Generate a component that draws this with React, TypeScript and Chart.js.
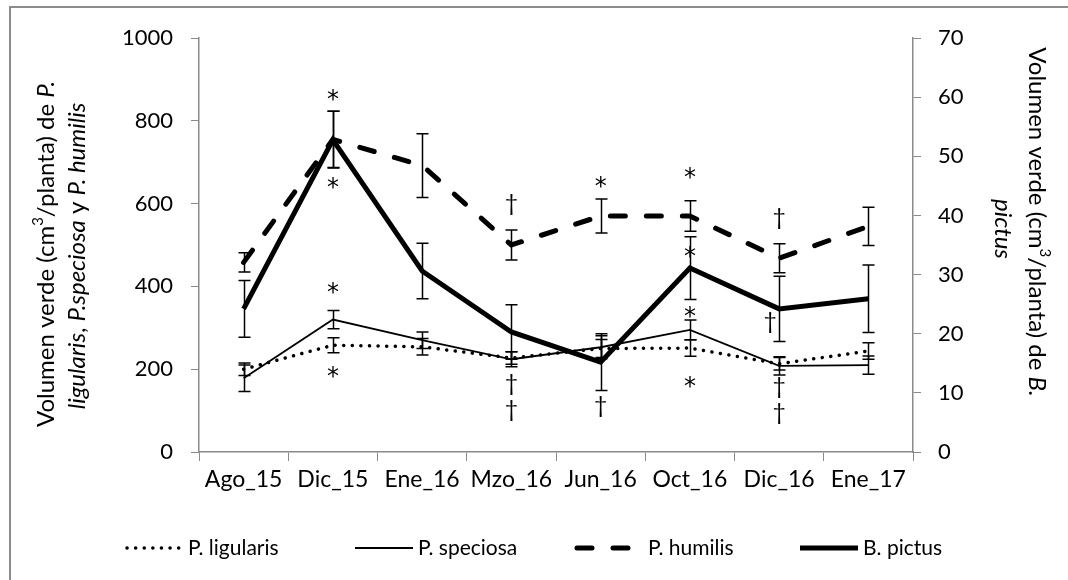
import React, { useEffect, useRef } from "react";
import { Chart, registerables } from "chart.js";

Chart.register(...registerables);

const categories = ["Ago_15", "Dic_15", "Ene_16", "Mzo_16", "Jun_16", "Oct_16", "Dic_16", "Ene_17"];

const ligularis = [200, 258, 254, 227, 250, 251, 213, 244];
const ligularisErr = [15, 18, 20, 15, 22, 20, 15, 20];
const speciosa = [178, 320, 270, 224, 253, 295, 208, 210];
const speciosaErr = [32, 22, 20, 18, 28, 24, 22, 22];
const humilis = [458, 755, 692, 500, 570, 570, 468, 545];
const humilisErr = [23, 68, 77, 36, 41, 37, 35, 46];
const pictus = [24.2, 52.8, 30.6, 20.3, 15.2, 31.1, 24.2, 25.9];
const pictusErr = [4.8, 4.8, 4.7, 4.6, 4.8, 5.3, 5.5, 5.7];

const leftTicks = [0, 200, 400, 600, 800, 1000];
const rightTicks = [0, 10, 20, 30, 40, 50, 60, 70];

// significance marks (category index, value on left axis, symbol)
const markCategory = [1, 1, 1, 1, 3, 3, 3, 4, 4, 5, 5, 5, 5, 6, 5.9, 6, 6];
const markValue = [862, 650, 396, 193, 599, 162, 101, 652, 109, 674, 483, 338, 169, 565, 314, 155, 94];
const markSymbol = ["*", "*", "*", "*", "†", "†", "†", "*", "†", "*", "*", "*", "*", "†", "†", "†", "†"];

const seriesNames = ["P. ligularis", "P. speciosa", "P. humilis", "B. pictus"];

const FONT = "Lato, 'Open Sans', sans-serif";
const AXIS_GREY = "#8a8a8a";

type Seg = { t: string; i?: boolean; sup?: boolean };

const leftTitle1: Seg[] = [
  { t: "Volumen verde (cm" },
  { t: "3", sup: true },
  { t: "/planta) de " },
  { t: "P.", i: true },
];
const leftTitle2: Seg[] = [
  { t: "ligularis", i: true },
  { t: ", " },
  { t: "P.speciosa", i: true },
  { t: " y " },
  { t: "P. humilis", i: true },
];
const rightTitle1: Seg[] = [
  { t: "Volumen verde (cm" },
  { t: "3", sup: true },
  { t: "/planta) de " },
  { t: "B.", i: true },
];
const rightTitle2: Seg[] = [{ t: "pictus", i: true }];

function segFont(s: Seg, size: number) {
  const sz = s.sup ? Math.round(size * 0.62) : size;
  return `${s.i ? "italic " : ""}${sz}px ${FONT}`;
}

function drawSegs(ctx: CanvasRenderingContext2D, segs: Seg[], size: number) {
  let total = 0;
  for (const s of segs) {
    ctx.font = segFont(s, size);
    total += ctx.measureText(s.t).width;
  }
  let x = -total / 2;
  ctx.textBaseline = "middle";
  ctx.textAlign = "left";
  for (const s of segs) {
    ctx.font = segFont(s, size);
    ctx.fillText(s.t, x, s.sup ? -size * 0.32 : 0);
    x += ctx.measureText(s.t).width;
  }
}

const errorsByDataset = [ligularisErr, speciosaErr, humilisErr, pictusErr];

const customPlugin = {
  id: "custom",
  beforeDraw(chart: any) {
    const ctx = chart.ctx as CanvasRenderingContext2D;
    ctx.save();
    ctx.fillStyle = "#ffffff";
    ctx.fillRect(0, 0, chart.width, chart.height);
    ctx.strokeStyle = "#8c8c8c";
    ctx.lineWidth = 2;
    ctx.strokeRect(10, 7, chart.width + 20, chart.height + 20);
    ctx.restore();
  },
  afterDatasetsDraw(chart: any) {
    const ctx = chart.ctx as CanvasRenderingContext2D;
    const xs = chart.scales.x;
    ctx.save();
    ctx.strokeStyle = "#000";
    ctx.lineWidth = 1.5;
    chart.data.datasets.forEach((ds: any, i: number) => {
      const ys = chart.scales[ds.yAxisID];
      const errs = errorsByDataset[i];
      ds.data.forEach((v: number, j: number) => {
        const px = Math.round(xs.getPixelForValue(j)) + 0.5;
        const top = ys.getPixelForValue(v + errs[j]);
        const bot = ys.getPixelForValue(v - errs[j]);
        ctx.beginPath();
        ctx.moveTo(px, top);
        ctx.lineTo(px, bot);
        ctx.moveTo(px - 6, top);
        ctx.lineTo(px + 6, top);
        ctx.moveTo(px - 6, bot);
        ctx.lineTo(px + 6, bot);
        ctx.stroke();
      });
    });
    // significance marks
    const yl = chart.scales.yLeft;
    ctx.fillStyle = "#000";
    ctx.textAlign = "center";
    ctx.textBaseline = "alphabetic";
    markSymbol.forEach((sym, k) => {
      ctx.font = sym === "*" ? `24px 'DejaVu Sans', sans-serif` : `23px ${FONT}`;
      const px = xs.getPixelForValue(markCategory[k]);
      const py = yl.getPixelForValue(markValue[k]);
      const m = ctx.measureText(sym);
      const base = py + (m.actualBoundingBoxAscent - m.actualBoundingBoxDescent) / 2;
      ctx.fillText(sym, px, base);
    });
    ctx.restore();
  },
  afterDraw(chart: any) {
    const ctx = chart.ctx as CanvasRenderingContext2D;
    ctx.save();
    ctx.fillStyle = "#000";
    // left title
    ctx.save();
    ctx.translate(46, 254);
    ctx.rotate(-Math.PI / 2);
    drawSegs(ctx, leftTitle1, 24);
    ctx.restore();
    ctx.save();
    ctx.translate(77, 256);
    ctx.rotate(-Math.PI / 2);
    drawSegs(ctx, leftTitle2, 24);
    ctx.restore();
    // right title
    ctx.save();
    ctx.translate(1037, 222);
    ctx.rotate(Math.PI / 2);
    drawSegs(ctx, rightTitle1, 24);
    ctx.restore();
    ctx.save();
    ctx.translate(1003, 229);
    ctx.rotate(Math.PI / 2);
    drawSegs(ctx, rightTitle2, 24);
    ctx.restore();

    // legend
    const starts = [125, 355, 577, 800];
    const ly = 548;
    chart.data.datasets.forEach((ds: any, i: number) => {
      const x0 = starts[i];
      ctx.save();
      ctx.strokeStyle = ds.borderColor;
      ctx.lineWidth = ds.borderWidth;
      ctx.lineCap = ds.borderCapStyle || "butt";
      ctx.setLineDash(ds.borderDash || []);
      ctx.beginPath();
      ctx.moveTo(x0 + (i === 0 ? 2 : 0), ly);
      ctx.lineTo(x0 + 58, ly);
      ctx.stroke();
      ctx.restore();
      ctx.font = `21px ${FONT}`;
      ctx.textBaseline = "middle";
      ctx.textAlign = "left";
      ctx.fillText(ds.label, x0 + (i === 2 ? 71 : 63), ly);
    });
    ctx.restore();
  },
};

export default function App() {
  const ref = useRef<HTMLCanvasElement | null>(null);
  useEffect(() => {
    document.body.style.margin = "0";
    const canvas = ref.current!;
    const tickFont = { family: FONT, size: 22 };
    const chart = new Chart(canvas, {
      type: "line",
      data: {
        labels: categories,
        datasets: [
          {
            label: seriesNames[0],
            data: ligularis,
            yAxisID: "yLeft",
            borderColor: "#000",
            borderWidth: 3.5,
            borderDash: [0.1, 8.5],
            borderCapStyle: "round",
            pointRadius: 0,
            fill: false,
          },
          {
            label: seriesNames[1],
            data: speciosa,
            yAxisID: "yLeft",
            borderColor: "#000",
            borderWidth: 1.8,
            pointRadius: 0,
            fill: false,
          },
          {
            label: seriesNames[2],
            data: humilis,
            yAxisID: "yLeft",
            borderColor: "#000",
            borderWidth: 5,
            borderDash: [15, 21],
            borderCapStyle: "round",
            pointRadius: 0,
            fill: false,
          },
          {
            label: seriesNames[3],
            data: pictus,
            yAxisID: "yRight",
            borderColor: "#000",
            borderWidth: 5,
            borderJoinStyle: "miter",
            pointRadius: 0,
            fill: false,
          },
        ] as any,
      },
      options: {
        responsive: false,
        animation: false,
        devicePixelRatio: 1,
        layout: { padding: { left: 0, right: 0, top: 38, bottom: 0 } },
        plugins: { legend: { display: false }, tooltip: { enabled: false } },
        scales: {
          x: {
            offset: true,
            grid: {
              offset: true,
              drawOnChartArea: false,
              drawTicks: true,
              tickLength: 9,
              tickColor: AXIS_GREY,
            },
            border: { color: AXIS_GREY, width: 1.5 },
            ticks: { color: "#000", font: { family: FONT, size: 23 }, padding: 5, maxRotation: 0, autoSkip: false },
            afterFit: (s: any) => {
              s.height = 580 - 452;
            },
          },
          yLeft: {
            position: "left",
            min: 0,
            max: 1000,
            afterBuildTicks: (s: any) => {
              s.ticks = leftTicks.map((v) => ({ value: v }));
            },
            grid: { drawOnChartArea: false, tickLength: 8, tickColor: AXIS_GREY },
            border: { color: AXIS_GREY, width: 1.5 },
            ticks: { color: "#000", font: tickFont, padding: 18, callback: (v: any) => String(v) },
            afterFit: (s: any) => {
              s.width = 199;
            },
          },
          yRight: {
            position: "right",
            min: 0,
            max: 70,
            afterBuildTicks: (s: any) => {
              s.ticks = rightTicks.map((v) => ({ value: v }));
            },
            grid: { drawOnChartArea: false, tickLength: 8, tickColor: AXIS_GREY },
            border: { color: AXIS_GREY, width: 1.5 },
            ticks: { color: "#000", font: tickFont, padding: 17, callback: (v: any) => String(v) },
            afterFit: (s: any) => {
              s.width = 1068 - 913;
            },
          },
        },
      } as any,
      plugins: [customPlugin],
    });
    return () => chart.destroy();
  }, []);
  return (
    <div style={{ width: 1068, height: 580 }}>
      <canvas ref={ref} width={1068} height={580} style={{ display: "block" }} />
    </div>
  );
}
